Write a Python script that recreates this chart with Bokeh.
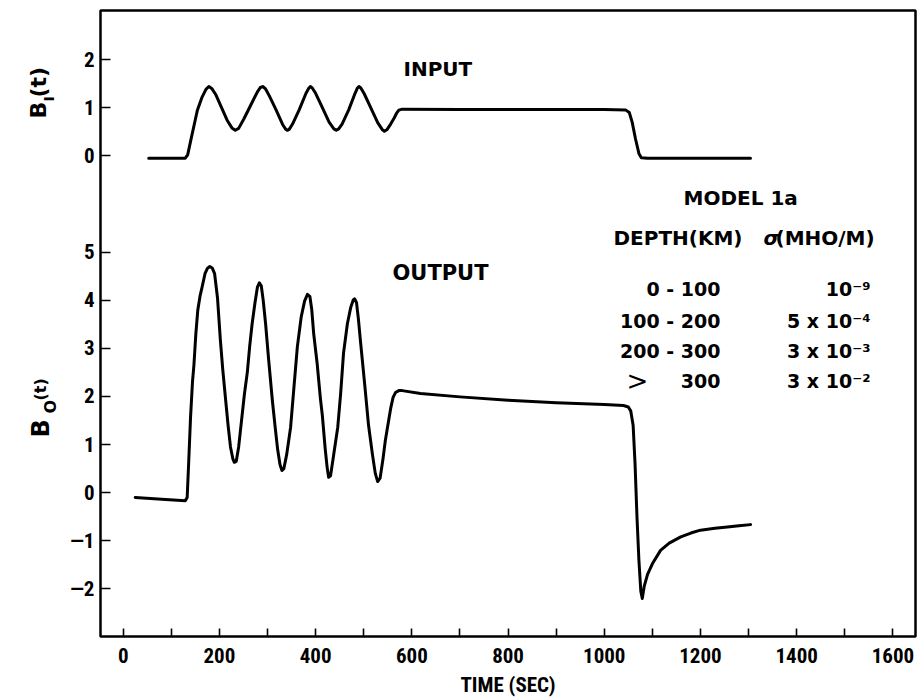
import math
from bokeh.plotting import figure
from bokeh.layouts import row
from bokeh.models import Label, Range1d, FixedTicker
from bokeh.embed import file_html
from bokeh.resources import INLINE

# ---------------- data ----------------
t_in = [53, 129, 134, 140, 147, 154, 164, 172, 178, 184, 192, 204, 216, 226, 233,
        240, 251, 265, 279, 285, 290, 296, 304, 318, 332, 338, 341, 345, 352, 366,
        380, 386, 389, 393, 400, 414, 428, 438, 443, 448, 455, 469, 482, 487, 490,
        494, 501, 515, 529, 539, 543, 548, 556, 563, 568, 573, 580, 700, 850, 1000,
        1045, 1052, 1058, 1065, 1072, 1077, 1090, 1200, 1304]
b_in = [-0.05, -0.05, 0.02, 0.30, 0.62, 0.94, 1.22, 1.38, 1.44, 1.40, 1.28, 1.01, 0.74, 0.58, 0.53,
        0.57, 0.77, 1.05, 1.33, 1.42, 1.44, 1.39, 1.24, 0.95, 0.64, 0.55, 0.53, 0.55, 0.66, 0.96,
        1.30, 1.41, 1.44, 1.41, 1.30, 1.00, 0.70, 0.56, 0.53, 0.56, 0.66, 0.96, 1.30, 1.41, 1.44,
        1.41, 1.29, 0.99, 0.69, 0.54, 0.51, 0.54, 0.66, 0.78, 0.88, 0.95, 0.97, 0.96, 0.96, 0.96,
        0.95, 0.90, 0.70, 0.35, 0.05, -0.04, -0.05, -0.05, -0.05]

t_out = [25, 80, 129, 133, 136, 140, 144, 147, 151, 155, 160, 164, 170, 175, 180, 185, 190, 196,
         202, 207, 213, 218, 223, 228, 231, 235, 240, 246, 252, 258, 263, 268, 274, 279, 283,
         287, 291, 296, 302, 310, 316, 321, 326, 330, 334, 340, 348, 355, 362, 370, 377, 383,
         388, 392, 396, 403, 410, 414, 420, 424, 427, 431, 437, 446, 452, 458, 466, 473, 478,
         481, 485, 489, 493, 502, 510, 518, 524, 529, 534, 540, 545, 551, 556, 561, 566, 573,
         580, 618, 700, 800, 900, 1000, 1040, 1050, 1055, 1060, 1064, 1068, 1072, 1076, 1079,
         1083, 1090, 1100, 1117, 1135, 1159, 1180, 1200, 1230, 1256, 1280, 1304]
b_out = [-0.10, -0.14, -0.17, -0.10, 0.60, 1.57, 2.30, 2.65, 3.30, 3.79, 4.10, 4.27, 4.55, 4.66,
         4.70, 4.67, 4.55, 4.05, 3.17, 2.55, 1.92, 1.40, 0.95, 0.70, 0.63, 0.65, 0.95, 1.50, 2.05,
         2.50, 3.05, 3.51, 3.95, 4.27, 4.36, 4.30, 4.00, 3.51, 2.80, 1.92, 1.35, 0.90, 0.58, 0.46,
         0.50, 0.80, 1.36, 2.20, 3.03, 3.65, 3.98, 4.12, 4.08, 3.80, 3.30, 2.70, 1.95, 1.60, 0.90,
         0.52, 0.32, 0.35, 0.75, 1.36, 2.06, 2.90, 3.51, 3.85, 4.00, 4.03, 3.95, 3.60, 3.17, 2.25,
         1.40, 0.80, 0.40, 0.23, 0.30, 0.70, 1.09, 1.45, 1.75, 1.98, 2.08, 2.12, 2.12, 2.06, 1.99,
         1.92, 1.87, 1.83, 1.81, 1.78, 1.70, 1.40, 0.60, -0.50, -1.40, -2.05, -2.20, -1.95, -1.70,
         -1.48, -1.20, -1.05, -0.92, -0.84, -0.78, -0.74, -0.715, -0.69, -0.665]

x_ticks = [0, 200, 400, 600, 800, 1000, 1200, 1400, 1600]
x_minor = [100, 300, 500, 700, 900, 1100, 1300, 1500]
out_ticks = [-2, -1, 0, 1, 2, 3, 4, 5]
in_ticks = [0, 1, 2]

depth_rows = ["0 - 100", "100 - 200", "200 - 300", "300"]
sigma_rows = ["10\u207b\u2079", "5 x 10\u207b\u2074", "3 x 10\u207b\u00b3", "3 x 10\u207b\u00b2"]

# ---------------- layout ----------------
FX0, FX1, FY0, FY1 = 100.0, 915.0, 10.0, 636.0   # frame in page pixels
STRIP = 60                                        # width of the y-title strip
BOTTOM = 58
XR = (-47.2, 1647.0)
YR = (-2.99, 10.02)
IN_SHIFT = 7.0                                    # input panel offset on the shared frame
YR_IN = (YR[0] - IN_SHIFT, YR[1] - IN_SHIFT)


def dx(px):
    return XR[0] + (px - FX0) / (FX1 - FX0) * (XR[1] - XR[0])


def dy(py):
    return YR[1] - (py - FY0) / (FY1 - FY0) * (YR[1] - YR[0])


NARROW = "'Liberation Sans Narrow', 'Arial Narrow', 'Roboto Condensed', sans-serif"
WIDE = "DejaVu Sans"

p = figure(frame_width=int(FX1 - FX0), frame_height=int(FY1 - FY0),
           x_range=Range1d(*XR), y_range=Range1d(*YR),
           output_backend="svg", toolbar_location=None,
           min_border_left=int(FX0 - STRIP), min_border_right=3,
           min_border_top=int(FY0), min_border_bottom=BOTTOM)
p.extra_y_ranges = {"inp": Range1d(*YR_IN)}
p.xgrid.visible = False
p.ygrid.visible = False
p.outline_line_color = "black"
p.outline_line_width = 2.5
p.outline_line_alpha = 1.0
p.background_fill_color = "white"
p.border_fill_color = "white"


def style_axis(ax, tick_len):
    ax.axis_line_color = None
    ax.major_tick_in = tick_len
    ax.major_tick_out = 0
    ax.minor_tick_in = tick_len
    ax.minor_tick_out = 0
    ax.major_tick_line_width = 1.6
    ax.minor_tick_line_width = 1.6
    ax.major_tick_line_color = "black"
    ax.minor_tick_line_color = "black"
    ax.major_label_text_font = NARROW
    ax.major_label_text_font_size = "21px"
    ax.major_label_text_font_style = "bold"
    ax.major_label_text_color = "black"


xa = p.xaxis[0]
xa.ticker = FixedTicker(ticks=x_ticks, minor_ticks=x_minor)
style_axis(xa, 8)
xa.major_label_standoff = 11
xa.axis_label = "TIME (SEC)"
xa.axis_label_text_font = NARROW
xa.axis_label_text_font_size = "21px"
xa.axis_label_text_font_style = "bold"
xa.axis_label_text_color = "black"
xa.axis_label_standoff = 7

# one left axis carries both panels' ticks: output ticks as-is, input ticks shifted
ya = p.yaxis[0]
in_pos = [v + IN_SHIFT for v in in_ticks]
ya.ticker = FixedTicker(ticks=out_ticks + in_pos, minor_ticks=[])
style_axis(ya, 10)
ya.major_label_standoff = 6
overrides = {v: ("\u2014" + str(-v) if v < 0 else str(v)) for v in out_ticks}
for v, pos in zip(in_ticks, in_pos):
    overrides[pos] = str(v)
ya.major_label_overrides = overrides

# ---------------- curves ----------------
p.line(t_out, b_out, line_color="black", line_width=3, line_join="round", line_cap="round")
p.line(t_in, b_in, y_range_name="inp", line_color="black", line_width=3,
       line_join="round", line_cap="round")


def lab(px, py, text, size="20px", align="left", font=WIDE, style="bold", angle=0.0):
    p.add_layout(Label(x=dx(px), y=dy(py), text=text, text_font=font,
                       text_font_size=size, text_font_style=style, text_color="black",
                       text_align=align, text_baseline="alphabetic", angle=angle))


# panel titles
lab(403, 68, "INPUT")
lab(392, 272, "OUTPUT", size="21px")

# model table
lab(683, 197, "MODEL 1a")
lab(613, 237, "DEPTH(KM)")
lab(763, 237, "\u03c3", style="bold italic")
lab(775, 237, "(MHO/M)")
row_y = [288, 320, 350, 380]
for ry, dtxt, stxt in zip(row_y, depth_rows, sigma_rows):
    lab(720, ry, dtxt, size="19px", align="right")
    lab(870, ry, stxt, size="19px", align="right")
lab(626, 380, ">", size="26px", style="normal")

# ---------------- y-title strip (left of the main plot) ----------------
# its frame has the same vertical extent as the main frame; data units = page pixels
s = figure(frame_width=STRIP, frame_height=int(FY1 - FY0),
           x_range=Range1d(0, STRIP), y_range=Range1d(FY1, FY0),
           output_backend="svg", toolbar_location=None,
           x_axis_location=None, y_axis_location=None,
           min_border_left=0, min_border_right=0,
           min_border_top=int(FY0), min_border_bottom=BOTTOM)
s.xgrid.visible = False
s.ygrid.visible = False
s.outline_line_color = None
s.background_fill_color = "white"
s.border_fill_color = "white"


def slab(px, py, text, size):
    s.add_layout(Label(x=px, y=py, text=text, text_font=WIDE, text_font_size=size,
                       text_font_style="bold", text_color="black", text_align="left",
                       text_baseline="alphabetic", angle=math.pi / 2))


slab(38, 118, "B", "22px")
slab(48, 101, "I", "14px")
slab(38, 97, "(t)", "22px")

slab(40, 437, "B", "24px")
slab(50, 413, "O", "16px")
slab(40, 400, "(t)", "16px")

layout = row(s, p)
open("out.html", "w").write(file_html(layout, INLINE))
